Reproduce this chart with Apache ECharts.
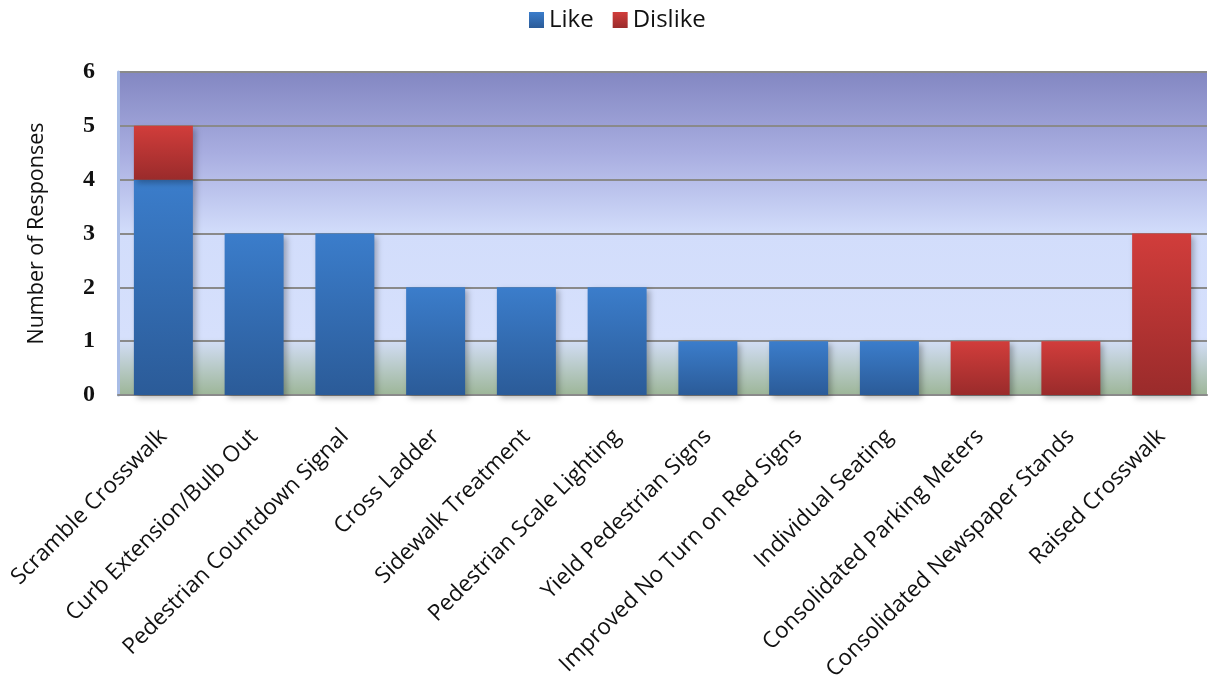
<!DOCTYPE html>
<html>
<head>
<meta charset="utf-8">
<script src="https://cdn.jsdelivr.net/npm/echarts@6/dist/echarts.min.js"></script>
<style>
  html, body { margin: 0; padding: 0; background: #ffffff; }
  #chart { width: 1208px; height: 681px; }
</style>
</head>
<body>
<div id="chart"></div>
<script>
// Survey responses per streetscape element
const categories = [
  'Scramble Crosswalk',
  'Curb Extension/Bulb Out',
  'Pedestrian Countdown Signal',
  'Cross Ladder',
  'Sidewalk Treatment',
  'Pedestrian Scale Lighting',
  'Yield Pedestrian Signs',
  'Improved No Turn on Red Signs',
  'Individual Seating',
  'Consolidated Parking Meters',
  'Consolidated Newspaper Stands',
  'Raised Crosswalk'
];
const likeValues    = [4, 3, 3, 2, 2, 2, 1, 1, 1, 0, 0, 0];
const dislikeValues = [1, 0, 0, 0, 0, 0, 0, 0, 0, 1, 1, 3];
const yTicks = [0, 1, 2, 3, 4, 5, 6];

function vGrad(top, bottom) {
  return new echarts.graphic.LinearGradient(0, 0, 0, 1, [
    { offset: 0, color: top },
    { offset: 1, color: bottom }
  ]);
}

const chart = echarts.init(document.getElementById('chart'), null, { renderer: 'canvas' });

const barShadow = {
  shadowBlur: 6,
  shadowOffsetX: 3,
  shadowOffsetY: 3,
  shadowColor: 'rgba(0,0,0,0.28)'
};

chart.setOption({
  animation: false,
  backgroundColor: '#ffffff',
  legend: {
    top: 3,
    left: 524,
    icon: 'rect',
    itemWidth: 15,
    itemHeight: 16,
    itemGap: 19,
    textStyle: { fontFamily: 'Open Sans', fontSize: 24, color: '#111' },
    data: ['Like', 'Dislike']
  },
  grid: {
    left: 118,
    right: 1,
    top: 72,
    bottom: 286,
    outerBoundsMode: 'none',
    show: true,
    borderWidth: 0,
    backgroundColor: new echarts.graphic.LinearGradient(0, 0, 0, 1, [
      { offset: 0.00, color: '#8387c2' },
      { offset: 0.25, color: '#a8ade0' },
      { offset: 0.50, color: '#d2ddfb' },
      { offset: 0.82, color: '#d6e0fc' },
      { offset: 1.00, color: '#9db698' }
    ])
  },
  xAxis: {
    type: 'category',
    data: categories,
    axisLine: { show: true, lineStyle: { color: '#8a8a8a', width: 2 } },
    axisTick: { show: false },
    axisLabel: {
      interval: 0,
      rotate: 45,
      margin: 38,
      fontFamily: 'Open Sans',
      fontSize: 22.5,
      color: '#111'
    }
  },
  yAxis: {
    type: 'value',
    min: yTicks[0],
    max: yTicks[yTicks.length - 1],
    interval: 1,
    name: 'Number of Responses',
    nameLocation: 'middle',
    nameGap: 70,
    nameTextStyle: { fontFamily: 'Open Sans', fontSize: 21.5, color: '#111' },
    axisLine: { show: true, lineStyle: { color: '#a9bde6', width: 3 } },
    axisTick: { show: false },
    axisLabel: {
      margin: 23,
      fontFamily: 'Liberation Serif',
      fontWeight: 'bold',
      fontSize: 24,
      color: '#111'
    },
    splitLine: { show: true, lineStyle: { color: '#8a8a8a', width: 2 } }
  },
  series: [
    {
      name: 'Like',
      type: 'bar',
      stack: 'responses',
      barWidth: '65%',
      data: likeValues,
      itemStyle: Object.assign({ color: vGrad('#3b7dcb', '#2b5b98') }, barShadow)
    },
    {
      name: 'Dislike',
      type: 'bar',
      stack: 'responses',
      barWidth: '65%',
      data: dislikeValues,
      itemStyle: Object.assign({ color: vGrad('#d13d3b', '#9a2b2b') }, barShadow)
    }
  ]
});
</script>
</body>
</html>
